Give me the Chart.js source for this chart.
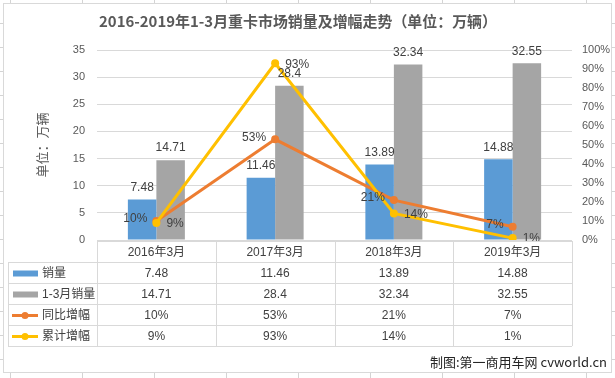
<!DOCTYPE html>
<html>
<head>
<meta charset="utf-8">
<script src="https://cdn.jsdelivr.net/npm/chart.js@4.4.1/dist/chart.umd.min.js"></script>
<style>
html,body{margin:0;padding:0;background:#fff;}
#wrap{position:relative;width:615px;height:378px;}
canvas{display:block;}
</style>
</head>
<body>
<div id="wrap"><canvas id="c" width="615" height="378"></canvas></div>
<script>
const chartTitle = '2016-2019年1-3月重卡市场销量及增幅走势（单位：万辆）';
const axisTitle = '单位：万辆';
const footerText = '制图:第一商用车网 cvworld.cn';
const categories = ['2016年3月', '2017年3月', '2018年3月', '2019年3月'];
const seriesNames = ['销量', '1-3月销量', '同比增幅', '累计增幅'];
const sales = [7.48, 11.46, 13.89, 14.88];
const salesQ1 = [14.71, 28.4, 32.34, 32.55];
const yoyGrowth = [0.10, 0.53, 0.21, 0.07];
const cumGrowth = [0.09, 0.93, 0.14, 0.01];
const leftTicks = [0, 5, 10, 15, 20, 25, 30, 35];
const rightTicks = [0, 0.1, 0.2, 0.3, 0.4, 0.5, 0.6, 0.7, 0.8, 0.9, 1.0];

const COLORS = ['#5B9BD5', '#A5A5A5', '#ED7D31', '#FFC000'];
const FONT = "'Liberation Sans', 'Noto Sans CJK SC', sans-serif";
const CJK = "'Noto Sans CJK SC', 'Liberation Sans', sans-serif";
const pct = v => Math.round(v * 100) + '%';

const decoPlugin = {
  id: 'deco',
  beforeDraw(chart) {
    const ctx = chart.ctx;
    ctx.save();
    ctx.fillStyle = '#fff';
    ctx.fillRect(0, 0, 615, 378);
    // spreadsheet gridline stubs outside chart frame
    ctx.strokeStyle = '#d4d4d4';
    ctx.lineWidth = 1;
    for (let x = 10; x < 615; x += 72) {
      ctx.beginPath(); ctx.moveTo(x + 0.5, 0); ctx.lineTo(x + 0.5, 3); ctx.stroke();
      ctx.beginPath(); ctx.moveTo(x + 0.5, 373); ctx.lineTo(x + 0.5, 378); ctx.stroke();
    }
    for (let y = 22.5; y < 378; y += 24.05) {
      const yy = Math.round(y) + 0.5;
      ctx.beginPath(); ctx.moveTo(0, yy); ctx.lineTo(3, yy); ctx.stroke();
      ctx.beginPath(); ctx.moveTo(612, yy); ctx.lineTo(615, yy); ctx.stroke();
    }
    // chart frame
    ctx.strokeStyle = '#d9d9d9';
    ctx.strokeRect(3.5, 3.5, 608, 369);
    ctx.restore();
  },
  afterDatasetsDraw(chart) {
    const ctx = chart.ctx;
    ctx.save();
    ctx.font = '12px ' + FONT;
    ctx.fillStyle = '#404040';
    // bar labels
    [0, 1].forEach(di => {
      const meta = chart.getDatasetMeta(di);
      const vals = chart.data.datasets[di].data;
      meta.data.forEach((el, i) => {
        ctx.textAlign = 'center';
        ctx.textBaseline = 'middle';
        ctx.fillText(String(vals[i]), el.x, el.y - 12);
      });
    });
    // line labels: orange left, yellow right
    const m2 = chart.getDatasetMeta(2);
    m2.data.forEach((el, i) => {
      ctx.textAlign = 'right';
      ctx.textBaseline = 'middle';
      ctx.fillText(pct(yoyGrowth[i]), el.x - 9, el.y - 2);
    });
    const m3 = chart.getDatasetMeta(3);
    m3.data.forEach((el, i) => {
      ctx.textAlign = 'left';
      ctx.textBaseline = 'middle';
      ctx.fillText(pct(cumGrowth[i]), el.x + 10, el.y + 1);
    });
    ctx.restore();
  },
  afterDraw(chart) {
    const ctx = chart.ctx;
    const area = chart.chartArea;
    const xs = chart.scales.x;
    const n = categories.length;
    const cw = (area.right - area.left) / n;
    ctx.save();
    // title
    ctx.fillStyle = '#595959';
    ctx.font = 'bold 15px ' + CJK;
    ctx.textAlign = 'center';
    ctx.textBaseline = 'middle';
    ctx.fillText(chartTitle, 298, 21, 398);
    // y axis title
    ctx.save();
    ctx.translate(42, 145);
    ctx.rotate(-Math.PI / 2);
    ctx.font = '13px ' + CJK;
    ctx.fillText(axisTitle, 0, 0);
    ctx.restore();
    // data table
    const top = area.bottom + 1;
    const rowH = 21;
    const legendLeft = 8;
    const rows = 5;
    ctx.strokeStyle = '#d9d9d9';
    ctx.lineWidth = 1;
    // horizontal lines
    for (let r = 0; r <= rows; r++) {
      const y = Math.round(top + r * rowH) + 0.5;
      ctx.beginPath();
      ctx.moveTo(r === 0 ? area.left : legendLeft, y);
      ctx.lineTo(area.right, y);
      ctx.stroke();
    }
    // vertical lines
    for (let c = 0; c <= n; c++) {
      const x = Math.round(area.left + c * cw) + 0.5;
      ctx.beginPath(); ctx.moveTo(x, top); ctx.lineTo(x, top + rows * rowH); ctx.stroke();
    }
    ctx.beginPath();
    ctx.moveTo(legendLeft + 0.5, top + rowH); ctx.lineTo(legendLeft + 0.5, top + rows * rowH); ctx.stroke();

    ctx.fillStyle = '#404040';
    ctx.font = '12px ' + FONT;
    ctx.textAlign = 'center';
    ctx.textBaseline = 'middle';
    const cellRows = [
      categories,
      sales.map(String),
      salesQ1.map(String),
      yoyGrowth.map(pct),
      cumGrowth.map(pct)
    ];
    cellRows.forEach((row, r) => {
      const cy = top + r * rowH + rowH / 2 + 1;
      row.forEach((t, i) => {
        ctx.fillText(t, xs.getPixelForValue(i), cy);
      });
    });
    // legend column
    seriesNames.forEach((name, k) => {
      const cy = top + (k + 1) * rowH + rowH / 2 + 1;
      ctx.fillStyle = COLORS[k];
      ctx.strokeStyle = COLORS[k];
      if (k < 2) {
        ctx.fillRect(13, cy - 3, 25, 6);
      } else {
        ctx.lineWidth = 3;
        ctx.beginPath(); ctx.moveTo(12, cy); ctx.lineTo(38, cy); ctx.stroke();
        ctx.beginPath(); ctx.arc(25, cy, 3.5, 0, Math.PI * 2); ctx.fill();
      }
      ctx.fillStyle = '#404040';
      ctx.textAlign = 'left';
      ctx.fillText(name, 42, cy);
    });
    // footer
    ctx.fillStyle = '#262626';
    ctx.font = '13px ' + CJK;
    ctx.textAlign = 'right';
    ctx.fillText(footerText, 607, 362);
    ctx.restore();
  }
};

new Chart(document.getElementById('c'), {
  data: {
    labels: categories,
    datasets: [
      { type: 'bar', label: seriesNames[0], data: sales, backgroundColor: COLORS[0], yAxisID: 'y', order: 3,
        barPercentage: 1, categoryPercentage: 0.48 },
      { type: 'bar', label: seriesNames[1], data: salesQ1, backgroundColor: COLORS[1], yAxisID: 'y', order: 3,
        barPercentage: 1, categoryPercentage: 0.48 },
      { type: 'line', label: seriesNames[2], data: yoyGrowth, borderColor: COLORS[2], backgroundColor: COLORS[2],
        yAxisID: 'y1', borderWidth: 3, pointRadius: 4, pointBorderWidth: 0, pointBackgroundColor: COLORS[2], tension: 0, order: 2 },
      { type: 'line', label: seriesNames[3], data: cumGrowth, borderColor: COLORS[3], backgroundColor: COLORS[3],
        yAxisID: 'y1', borderWidth: 3, pointRadius: 4, pointBorderWidth: 0, pointBackgroundColor: COLORS[3], tension: 0, order: 1 }
    ]
  },
  options: {
    responsive: false,
    animation: false,
    layout: { padding: { top: 50, bottom: 138, left: 0, right: 0 } },
    plugins: { legend: { display: false }, tooltip: { enabled: false }, title: { display: false } },
    scales: {
      x: { display: false, offset: true },
      y: {
        position: 'left', min: 0, max: 35,
        afterFit: s => { s.width = 97; },
        afterBuildTicks: s => { s.ticks = leftTicks.map(v => ({ value: v })); },
        border: { display: false },
        grid: { color: '#d9d9d9', drawTicks: false, lineWidth: 1 },
        ticks: { padding: 12, color: '#595959', font: { size: 11, family: FONT } }
      },
      y1: {
        position: 'right', min: 0, max: 1,
        afterFit: s => { s.width = 43; },
        afterBuildTicks: s => { s.ticks = rightTicks.map(v => ({ value: v })); },
        border: { display: false },
        grid: { display: false, drawTicks: false },
        ticks: { padding: 10, color: '#595959', font: { size: 11, family: FONT }, callback: v => pct(v) }
      }
    }
  },
  plugins: [decoPlugin]
});
</script>
</body>
</html>
